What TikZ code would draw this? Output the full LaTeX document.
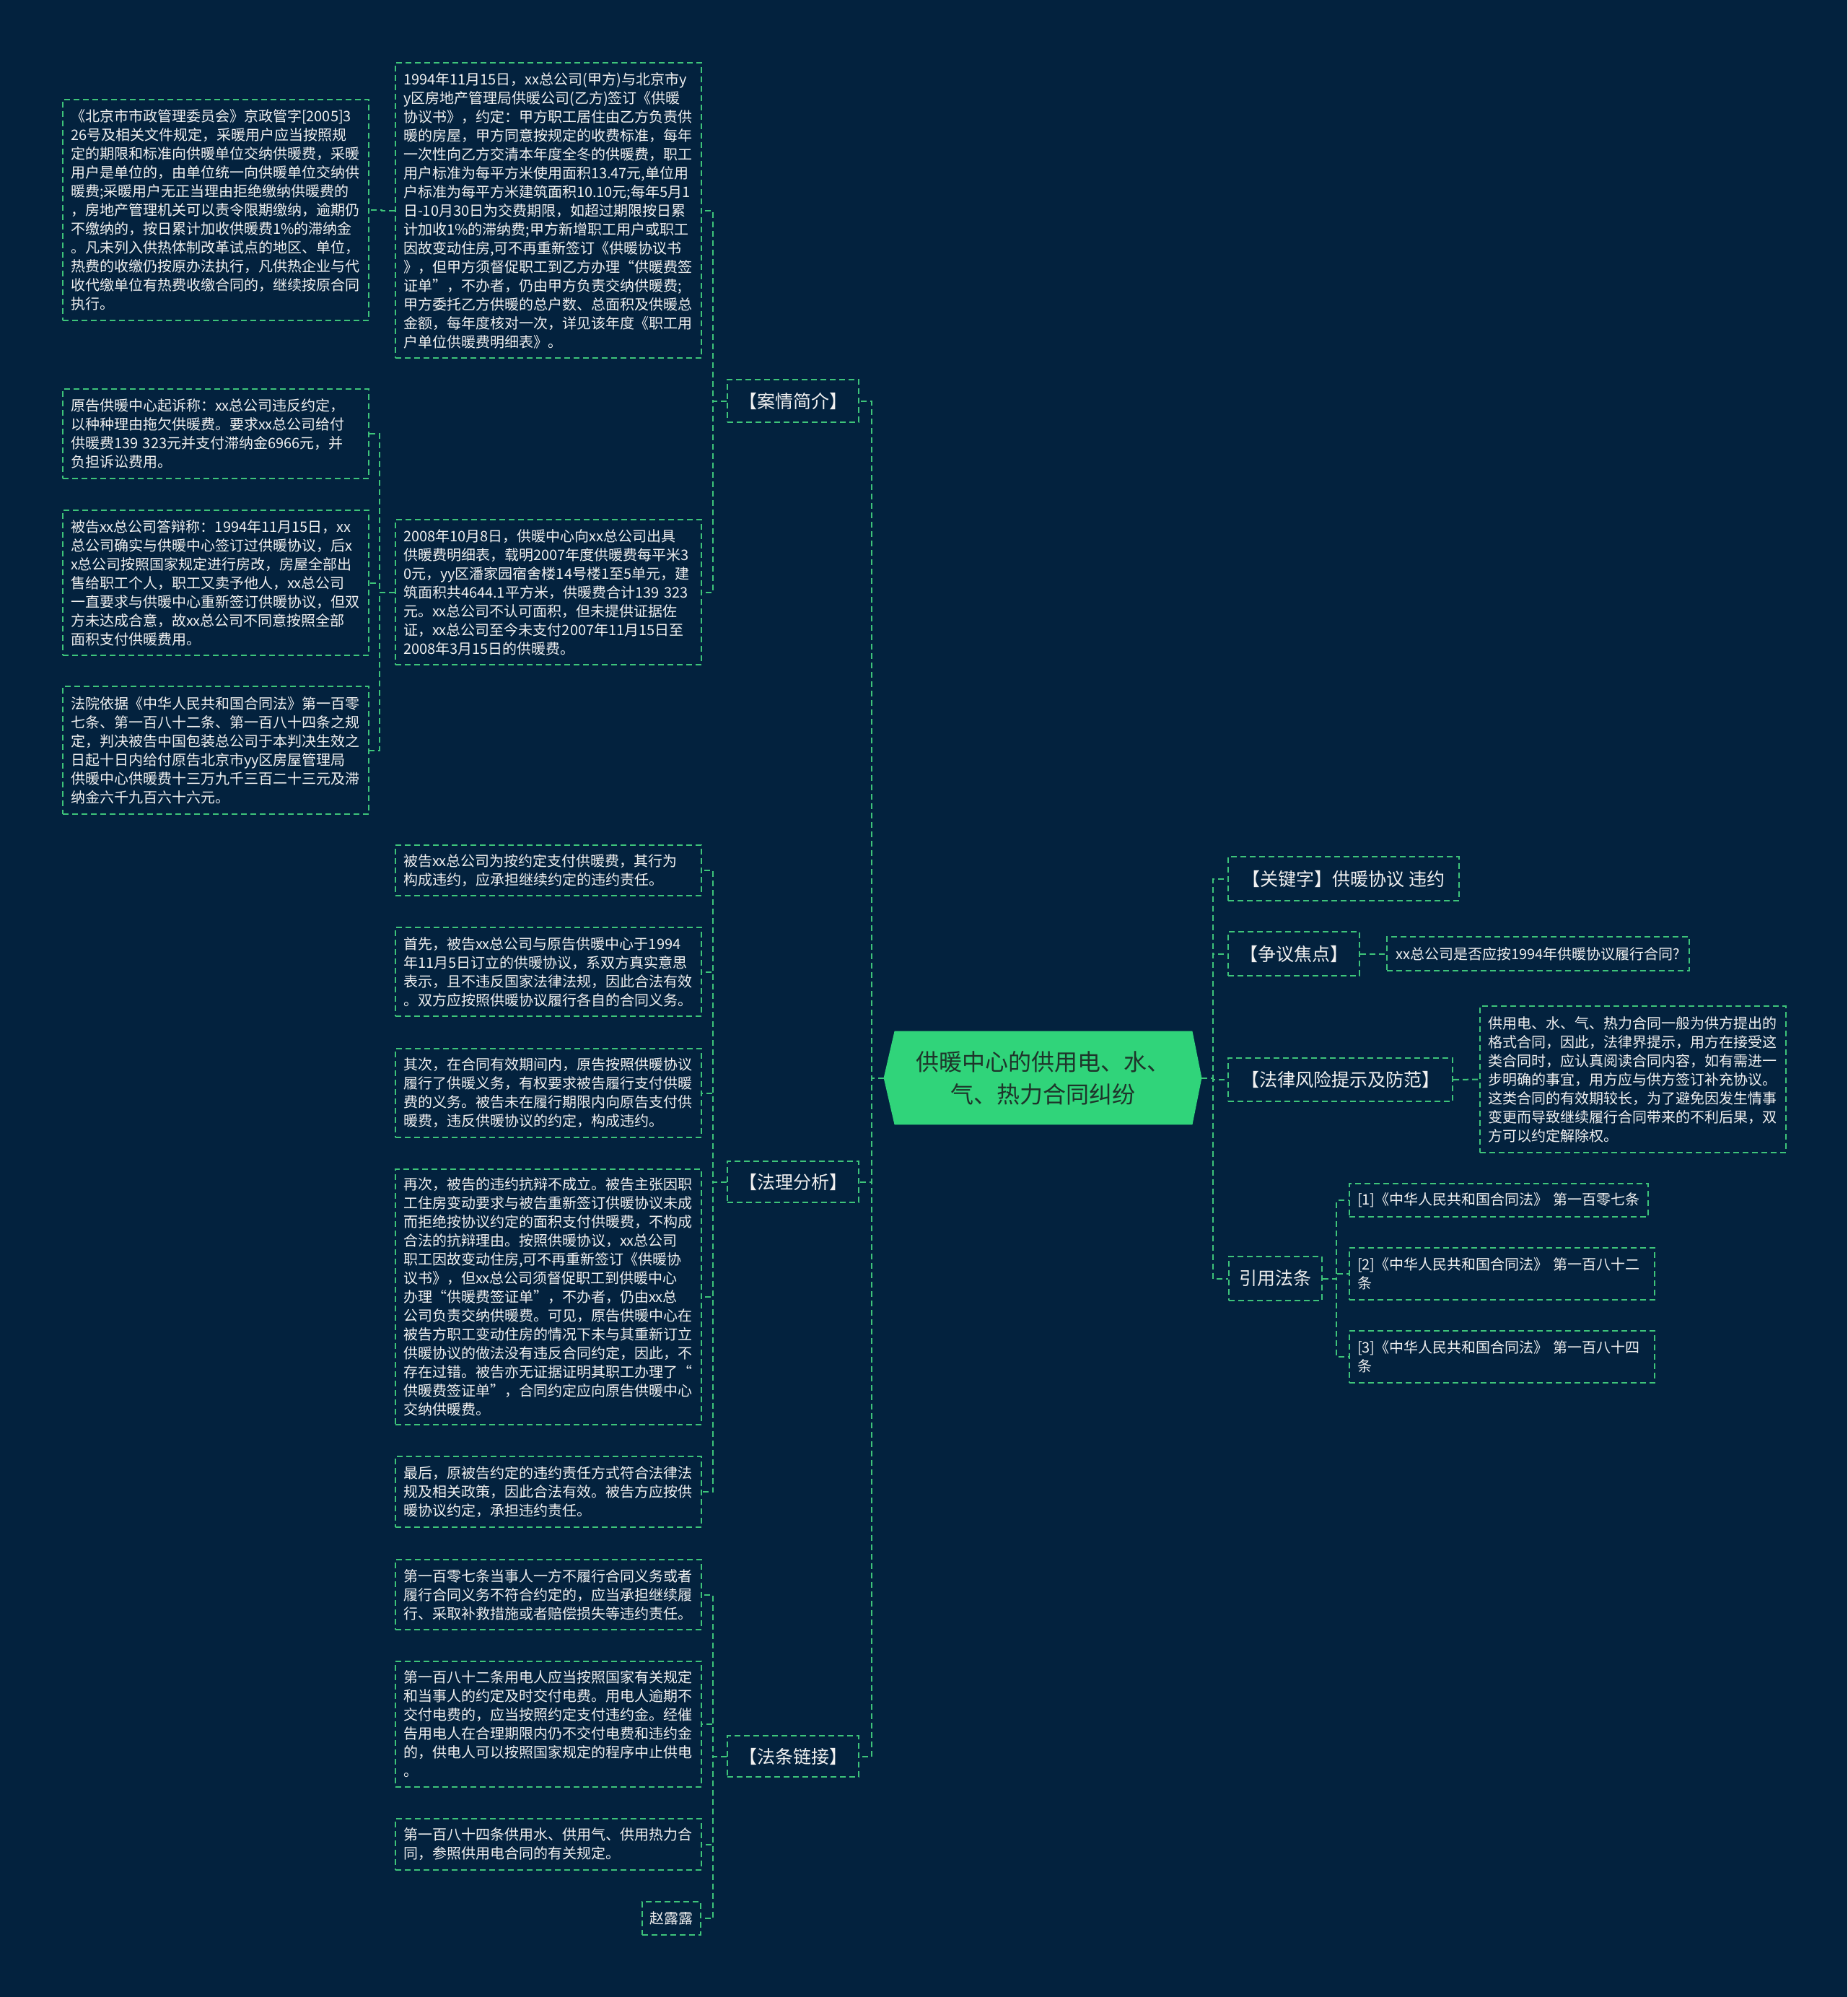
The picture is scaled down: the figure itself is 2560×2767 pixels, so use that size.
\documentclass[tikz,border=0pt]{standalone}
\usepackage{fontspec}
\setmainfont{Noto Sans CJK SC}
\usetikzlibrary{backgrounds}
\definecolor{bgc}{RGB}{3,34,62}
\definecolor{lineg}{RGB}{62,196,122}
\definecolor{txtc}{RGB}{240,240,240}
\definecolor{rootfill}{RGB}{48,212,122}
\definecolor{roottext}{RGB}{30,52,42}
\begin{document}
\begin{tikzpicture}[x=0.5pt,y=-0.5pt,
 dashline/.style={draw=lineg, line width=1pt, dash pattern=on 4pt off 2.5pt},
 tbox/.style={dashline, anchor=north west, text=txtc, inner xsep=5.5pt, inner ysep=3pt, align=left, text width=201pt, font=\fontsize{10pt}{13pt}\selectfont},
 sbox/.style={dashline, anchor=north west, text=txtc, inner sep=2pt, align=center, font=\fontsize{10pt}{13pt}\selectfont},
 cbox/.style={dashline, anchor=north west, text=txtc, inner sep=2pt, align=center, font=\fontsize{12.5pt}{15pt}\selectfont},
 conn/.style={dashline},
]
\useasboundingbox (0,0) rectangle (2560,2767);
\begin{pgfonlayer}{background}
\fill[bgc] (0,0) rectangle (2560,2767);
\end{pgfonlayer}

% root
\node[minimum width=220pt, minimum height=64.5pt, inner sep=0pt, align=center, text=roottext, font=\fontsize{16pt}{22.5pt}\selectfont] (root) at (1445,1493.5) {供暖中心的供用电、水、\\气、热力合同纠纷};
\begin{pgfonlayer}{background}
\fill[rootfill] (root.west) -- ([xshift=7.5pt]root.north west) -- ([xshift=-6.5pt]root.north east) -- (root.east) -- ([xshift=-6.5pt]root.south east) -- ([xshift=7.5pt]root.south west) -- cycle;
\end{pgfonlayer}

% left categories
\node[cbox, minimum width=91pt, minimum height=29.5pt] (c1) at (1007,525) {【案情简介】};
\node[cbox, minimum width=91pt, minimum height=28.5pt] (c2) at (1007,1608) {【法理分析】};
\node[cbox, minimum width=91pt, minimum height=28.5pt] (c3) at (1007,2404) {【法条链接】};

% case boxes
\node[tbox, minimum height=153pt] (b1) at (86,137) {《北京市市政管理委员会》京政管字[2005]3\\26号及相关文件规定，采暖用户应当按照规\\定的期限和标准向供暖单位交纳供暖费，采暖\\用户是单位的，由单位统一向供暖单位交纳供\\暖费;采暖用户无正当理由拒绝缴纳供暖费的\\，房地产管理机关可以责令限期缴纳，逾期仍\\不缴纳的，按日累计加收供暖费1\%的滞纳金\\。凡未列入供热体制改革试点的地区、单位，\\热费的收缴仍按原办法执行，凡供热企业与代\\收代缴单位有热费收缴合同的，继续按原合同\\执行。};
\node[tbox, minimum height=204.5pt] (b2) at (547,86) {1994年11月15日，xx总公司(甲方)与北京市y\\y区房地产管理局供暖公司(乙方)签订《供暖\\协议书》，约定：甲方职工居住由乙方负责供\\暖的房屋，甲方同意按规定的收费标准，每年\\一次性向乙方交清本年度全冬的供暖费，职工\\用户标准为每平方米使用面积13.47元,单位用\\户标准为每平方米建筑面积10.10元;每年5月1\\日-10月30日为交费期限，如超过期限按日累\\计加收1\%的滞纳费;甲方新增职工用户或职工\\因故变动住房,可不再重新签订《供暖协议书\\》，但甲方须督促职工到乙方办理“供暖费签\\证单”，不办者，仍由甲方负责交纳供暖费;\\甲方委托乙方供暖的总户数、总面积及供暖总\\金额，每年度核对一次，详见该年度《职工用\\户单位供暖费明细表》。};
\node[tbox, minimum height=62pt] (b3) at (86,538) {原告供暖中心起诉称：xx总公司违反约定，\\以种种理由拖欠供暖费。要求xx总公司给付\\供暖费139 323元并支付滞纳金6966元，并\\负担诉讼费用。};
\node[tbox, minimum height=100.5pt] (b4) at (86,706) {被告xx总公司答辩称：1994年11月15日，xx\\总公司确实与供暖中心签订过供暖协议，后x\\x总公司按照国家规定进行房改，房屋全部出\\售给职工个人，职工又卖予他人，xx总公司\\一直要求与供暖中心重新签订供暖协议，但双\\方未达成合意，故xx总公司不同意按照全部\\面积支付供暖费用。};
\node[tbox, minimum height=88.5pt] (b5) at (86,950) {法院依据《中华人民共和国合同法》第一百零\\七条、第一百八十二条、第一百八十四条之规\\定，判决被告中国包装总公司于本判决生效之\\日起十日内给付原告北京市yy区房屋管理局\\供暖中心供暖费十三万九千三百二十三元及滞\\纳金六千九百六十六元。};
\node[tbox, minimum height=100.5pt] (b6) at (547,719) {2008年10月8日，供暖中心向xx总公司出具\\供暖费明细表，载明2007年度供暖费每平米3\\0元，yy区潘家园宿舍楼14号楼1至5单元，建\\筑面积共4644.1平方米，供暖费合计139 323\\元。xx总公司不认可面积，但未提供证据佐\\证，xx总公司至今未支付2007年11月15日至\\2008年3月15日的供暖费。};

% analysis boxes
\node[tbox, minimum height=35pt] (b7) at (547,1170) {被告xx总公司为按约定支付供暖费，其行为\\构成违约，应承担继续约定的违约责任。};
\node[tbox, minimum height=61.5pt] (b8) at (547,1284) {首先，被告xx总公司与原告供暖中心于1994\\年11月5日订立的供暖协议，系双方真实意思\\表示，且不违反国家法律法规，因此合法有效\\。双方应按照供暖协议履行各自的合同义务。};
\node[tbox, minimum height=61.5pt] (b9) at (547,1452) {其次，在合同有效期间内，原告按照供暖协议\\履行了供暖义务，有权要求被告履行支付供暖\\费的义务。被告未在履行期限内向原告支付供\\暖费，违反供暖协议的约定，构成违约。};
\node[tbox, minimum height=177pt] (b10) at (547,1619) {再次，被告的违约抗辩不成立。被告主张因职\\工住房变动要求与被告重新签订供暖协议未成\\而拒绝按协议约定的面积支付供暖费，不构成\\合法的抗辩理由。按照供暖协议，xx总公司\\职工因故变动住房,可不再重新签订《供暖协\\议书》，但xx总公司须督促职工到供暖中心\\办理“供暖费签证单”，不办者，仍由xx总\\公司负责交纳供暖费。可见，原告供暖中心在\\被告方职工变动住房的情况下未与其重新订立\\供暖协议的做法没有违反合同约定，因此，不\\存在过错。被告亦无证据证明其职工办理了“\\供暖费签证单”，合同约定应向原告供暖中心\\交纳供暖费。};
\node[tbox, minimum height=49pt] (b11) at (547,2017) {最后，原被告约定的违约责任方式符合法律法\\规及相关政策，因此合法有效。被告方应按供\\暖协议约定，承担违约责任。};

% law boxes
\node[tbox, minimum height=48.5pt] (b12) at (547,2160) {第一百零七条当事人一方不履行合同义务或者\\履行合同义务不符合约定的，应当承担继续履\\行、采取补救措施或者赔偿损失等违约责任。};
\node[tbox, minimum height=87pt] (b13) at (547,2301) {第一百八十二条用电人应当按照国家有关规定\\和当事人的约定及时交付电费。用电人逾期不\\交付电费的，应当按照约定支付违约金。经催\\告用电人在合理期限内仍不交付电费和违约金\\的，供电人可以按照国家规定的程序中止供电\\。};
\node[tbox, minimum height=35.5pt] (b14) at (547,2519) {第一百八十四条供用水、供用气、供用热力合\\同，参照供用电合同的有关规定。};
\node[sbox, minimum width=40.5pt, minimum height=23pt] (b15) at (889,2634) {赵露露};

% right side
\node[cbox, minimum width=160pt, minimum height=30.5pt] (k1) at (1701,1186) {【关键字】供暖协议 违约};
\node[cbox, minimum width=91pt, minimum height=30.5pt] (k2) at (1701,1290) {【争议焦点】};
\node[sbox, minimum width=209.5pt, minimum height=23.5pt] (k2c) at (1921,1297) {xx总公司是否应按1994年供暖协议履行合同?};
\node[cbox, minimum width=155.5pt, minimum height=30pt] (k3) at (1701,1465) {【法律风险提示及防范】};
\node[tbox, minimum height=101.5pt] (k3c) at (2050,1393) {供用电、水、气、热力合同一般为供方提出的\\格式合同，因此，法律界提示，用方在接受这\\类合同时，应认真阅读合同内容，如有需进一\\步明确的事宜，用方应与供方签订补充协议。\\这类合同的有效期较长，为了避免因发生情事\\变更而导致继续履行合同带来的不利后果，双\\方可以约定解除权。};
\node[cbox, minimum width=64.5pt, minimum height=30.5pt] (k4) at (1702,1740) {引用法条};
\node[tbox, text width=196pt, minimum height=23pt] (r1) at (1869,1639) {[1]《中华人民共和国合同法》 第一百零七条};
\node[tbox, text width=200.5pt, minimum height=36pt] (r2) at (1869,1728) {[2]《中华人民共和国合同法》 第一百八十二\\条};
\node[tbox, text width=200.5pt, minimum height=36pt] (r3) at (1869,1843) {[3]《中华人民共和国合同法》 第一百八十四\\条};

% connectors
\foreach \c in {c1,c2,c3} \draw[conn] (root.west) -- ++(-17,0) |- (\c.east);
\foreach \k in {k1,k2,k3,k4} \draw[conn] (root.east) -- ++(16,0) |- (\k.west);
\foreach \b in {b2,b6} \draw[conn] (c1.west) -- ++(-19,0) |- (\b.east);
\draw[conn] (b2.west) -- ++(-18,0) |- (b1.east);
\foreach \b in {b3,b4,b5} \draw[conn] (b6.west) -- ++(-21,0) |- (\b.east);
\foreach \b in {b7,b8,b9,b10,b11} \draw[conn] (c2.west) -- ++(-19,0) |- (\b.east);
\foreach \b in {b12,b13,b14,b15} \draw[conn] (c3.west) -- ++(-19,0) |- (\b.east);
\draw[conn] (k2.east) -- (k2c.west);
\draw[conn] (k3.east) -- (k3c.west);
\foreach \r in {r1,r2,r3} \draw[conn] (k4.east) -- ++(19,0) |- (\r.west);
\end{tikzpicture}
\end{document}
